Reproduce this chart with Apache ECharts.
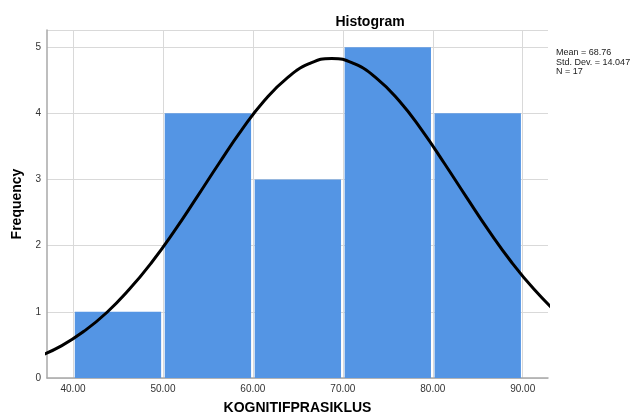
<!DOCTYPE html>
<html>
<head>
<meta charset="utf-8">
<script src="https://cdn.jsdelivr.net/npm/echarts@6/dist/echarts.min.js"></script>
<style>
html,body{margin:0;padding:0;background:#fff;}
#main{width:632px;height:419px;}
</style>
</head>
<body>
<div id="main"></div>
<script>
// histogram bins
var binStart = [40, 50, 60, 70, 80];
var binEnd = [50, 60, 70, 80, 90];
var counts = [1, 4, 3, 5, 4];
// normal curve
var curveX = [36.26, 38.76, 41.26, 43.76, 46.26, 48.76, 51.26, 53.76, 56.26, 58.76, 61.26, 63.76, 66.26, 68.76,
              71.26, 73.76, 76.26, 78.76, 81.26, 83.76, 86.26, 88.76, 91.26, 93.76];
var curveY = [0.33, 0.49, 0.71, 0.99, 1.34, 1.75, 2.22, 2.73, 3.25, 3.75, 4.19, 4.53, 4.75, 4.83,
              4.75, 4.53, 4.19, 3.75, 3.25, 2.73, 2.22, 1.75, 1.34, 0.99];
var xTicks = [40, 50, 60, 70, 80, 90];
var statLines = ['Mean = 68.76', 'Std. Dev. = 14.047', 'N = 17'];

var barData = [];
for (var i = 0; i < counts.length; i++) {
    barData.push([binStart[i], binEnd[i], counts[i]]);
}
var curveData = [];
for (var j = 0; j < curveX.length; j++) {
    curveData.push([curveX[j], curveY[j]]);
}

var font = '"Liberation Sans", Arial, sans-serif';
var chart = echarts.init(document.getElementById('main'));
chart.setOption({
    animation: false,
    textStyle: {fontFamily: font},
    title: {
        text: 'Histogram',
        left: 365, top: 10, textAlign: 'center',
        textStyle: {fontSize: 14, fontWeight: 'bold', color: '#000', fontFamily: font}
    },
    grid: {left: 47, right: 84, top: 30, bottom: 41, containLabel: false, outerBoundsMode: 'none'},
    xAxis: {
        type: 'value',
        min: 37.11, max: 92.81,
        name: 'KOGNITIFPRASIKLUS',
        nameLocation: 'middle', nameGap: 23,
        nameTextStyle: {fontSize: 14, fontWeight: 'bold', color: '#000', fontFamily: font},
        axisLine: {show: true, onZero: false, lineStyle: {color: '#a8a8a8', width: 1.5}},
        axisTick: {show: false, customValues: xTicks},
        axisLabel: {
            customValues: xTicks, fontSize: 10, color: '#333', margin: 6,
            formatter: function (v) { return v.toFixed(2); }
        },
        splitLine: {show: true, customValues: xTicks, lineStyle: {color: '#d9d9d9', width: 1}}
    },
    yAxis: {
        type: 'value',
        min: 0, max: 5.26, interval: 1,
        name: 'Frequency',
        nameLocation: 'middle', nameGap: 20, nameRotate: 90,
        nameTextStyle: {fontSize: 14, fontWeight: 'bold', color: '#000', fontFamily: font},
        axisLine: {show: true, lineStyle: {color: '#a8a8a8', width: 1.5}},
        axisTick: {show: false},
        axisLabel: {fontSize: 10, color: '#333', margin: 6, showMaxLabel: false},
        splitLine: {show: true, lineStyle: {color: '#d9d9d9', width: 1}}
    },
    graphic: [{
        type: 'text',
        left: 556, top: 48,
        style: {
            text: statLines.join('\n'),
            font: '9px ' + font,
            lineHeight: 9.5,
            fill: '#222'
        }
    }],
    series: [{
        type: 'custom',
        data: barData,
        encode: {x: [0, 1], y: 2},
        clip: true,
        renderItem: function (params, api) {
            var p0 = api.coord([api.value(0), api.value(2)]);
            var p1 = api.coord([api.value(1), 0]);
            var gap = 1.8;
            return {
                type: 'rect',
                shape: {x: p0[0] + gap, y: p0[1], width: p1[0] - p0[0] - 2 * gap, height: p1[1] - p0[1]},
                style: {fill: '#5495e4'}
            };
        },
        z: 2
    }, {
        type: 'line',
        data: curveData,
        smooth: 0.5,
        showSymbol: false,
        symbol: 'none',
        clip: true,
        lineStyle: {color: '#000', width: 3},
        z: 3
    }]
});
</script>
</body>
</html>
